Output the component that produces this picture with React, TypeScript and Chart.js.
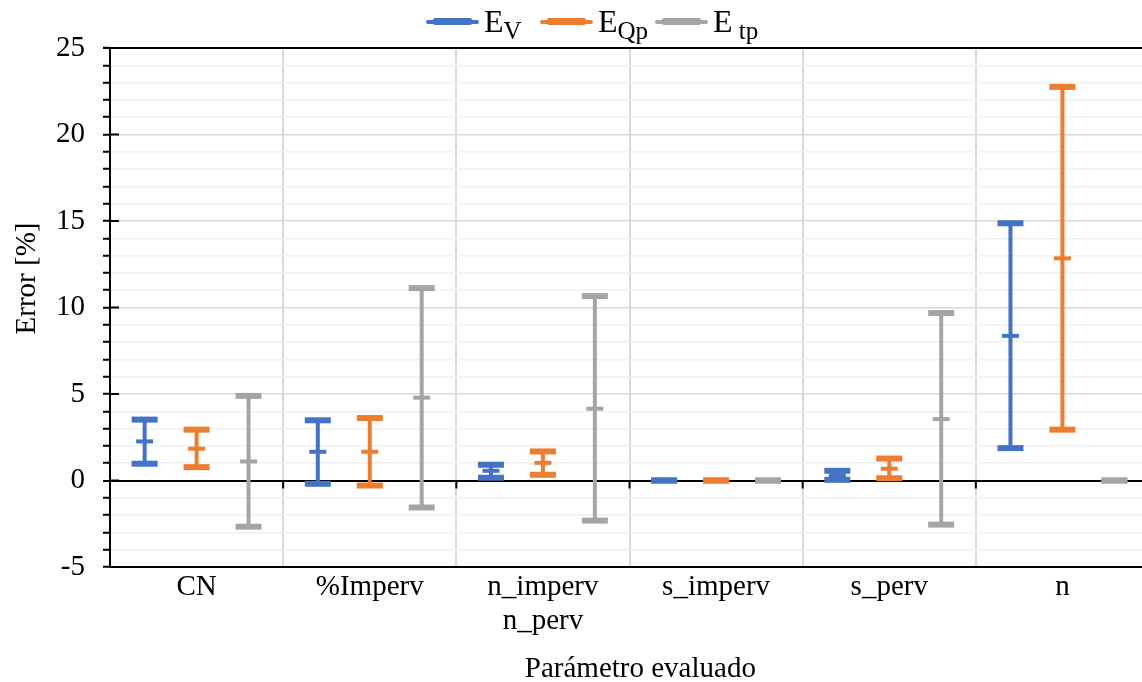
import React, { useEffect, useRef } from 'react';
import { Chart, registerables } from 'chart.js';

Chart.register(...registerables);

// ---- data ----
const categories: (string | string[])[] = ['CN', '%Imperv', ['n_imperv', 'n_perv'], 's_imperv', 's_perv', 'n'];

const evMin = [0.97, -0.19, 0.16, 0, 0.04, 1.87];
const evMean = [2.26, 1.66, 0.56, 0, 0.29, 8.36];
const evMax = [3.52, 3.48, 0.91, 0, 0.56, 14.87];

const eqpMin = [0.77, -0.29, 0.33, 0, 0.13, 2.94];
const eqpMean = [1.84, 1.66, 1.02, 0, 0.68, 12.84];
const eqpMax = [2.94, 3.61, 1.68, 0, 1.27, 22.75];

const etpMin = [-2.67, -1.56, -2.32, 0, -2.55, 0];
const etpMean = [1.1, 4.79, 4.15, 0, 3.55, 0];
const etpMax = [4.89, 11.12, 10.66, 0, 9.68, 0];

const yMin = -5;
const yMax = 25;
const yMajorStep = 5;

const xTitle = 'Parámetro evaluado';
const yTitle = 'Error [%]';

// ---- styling ----
const FONT = "'Liberation Serif', 'Times New Roman', serif";
const series = [
  { main: 'E', sub: 'V', color: '#4472C4', offset: -0.3, min: evMin, mean: evMean, max: evMax, left: 426 },
  { main: 'E', sub: 'Qp', color: '#ED7D31', offset: 0, min: eqpMin, mean: eqpMean, max: eqpMax, left: 540 },
  { main: 'E', sub: '\u00a0tp', color: '#A5A5A5', offset: 0.3, min: etpMin, mean: etpMean, max: etpMax, left: 655 },
];

const axisMarks = {
  id: 'axisMarks',
  beforeDatasetsDraw(chart: any) {
    const { ctx, chartArea, scales } = chart;
    const { left, right, top } = chartArea;
    const x = scales.x;
    const y = scales.y;
    ctx.save();
    ctx.strokeStyle = '#000';
    ctx.lineWidth = 2;
    ctx.beginPath();
    ctx.moveTo(left - 7, top);
    ctx.lineTo(right, top);
    for (let v = yMin; v <= yMax; v += yMajorStep) {
      const yy = y.getPixelForValue(v);
      ctx.moveTo(left, yy);
      ctx.lineTo(left + 9, yy);
    }
    const y0 = y.getPixelForValue(0);
    for (let i = 1; i < categories.length; i++) {
      const xx = x.getPixelForValue(i);
      ctx.moveTo(xx, y0);
      ctx.lineTo(xx, y0 + 8);
    }
    ctx.stroke();
    ctx.restore();
  },
};

export default function App() {
  const ref = useRef<HTMLCanvasElement>(null);

  useEffect(() => {
    if (!ref.current) return;
    const datasets: any[] = [];
    series.forEach((s) => {
      const pos = (i: number) => i + 0.5 + s.offset;
      datasets.push({
        type: 'bar',
        data: categories.map((_, i) => ({ x: pos(i), y: [s.min[i], s.max[i]] })),
        backgroundColor: s.color,
        borderWidth: 0,
        grouped: false,
        maxBarThickness: 4,
        order: 3,
      });
      datasets.push({
        type: 'scatter',
        data: [
          ...categories.map((_, i) => ({ x: pos(i), y: s.min[i] })),
          ...categories.map((_, i) => ({ x: pos(i), y: s.max[i] })),
        ],
        pointStyle: 'line',
        pointRadius: 13,
        pointHoverRadius: 13,
        pointBorderWidth: 6,
        borderColor: s.color,
        backgroundColor: s.color,
        showLine: false,
        order: 1,
      });
      datasets.push({
        type: 'scatter',
        data: categories.map((_, i) => ({ x: pos(i), y: s.mean[i] })),
        pointStyle: 'line',
        pointRadius: 8.5,
        pointHoverRadius: 8.5,
        pointBorderWidth: 4,
        borderColor: s.color,
        backgroundColor: s.color,
        showLine: false,
        order: 2,
      });
    });

    const tickFont = { family: FONT, size: 29, lineHeight: 1.15 };

    const chart = new Chart(ref.current, {
      type: 'bar',
      data: { datasets },
      plugins: [axisMarks],
      options: {
        responsive: false,
        animation: false,
        events: [],
        layout: { padding: { left: 0, right: 4, top: 48, bottom: 0 } },
        plugins: { legend: { display: false }, tooltip: { enabled: false } },
        scales: {
          x: {
            type: 'linear',
            min: 0,
            max: categories.length,
            offset: false,
            position: 'bottom',
            ticks: { display: false, stepSize: 1 },
            grid: {
              offset: false,
              color: (c: any) => (c.tick && (c.tick.value === 0 || c.tick.value === categories.length) ? 'rgba(0,0,0,0)' : '#d9d9d9'),
              lineWidth: 2,
              drawTicks: false,
            },
            border: { display: false },
            afterFit: (s: any) => { s.height = 0; },
          },
          xc: {
            type: 'category',
            labels: categories as any,
            position: 'bottom',
            offset: true,
            grid: { display: false, drawTicks: false },
            border: { display: true, color: '#000', width: 2 },
            ticks: { font: tickFont, color: '#000', padding: 4, maxRotation: 0, autoSkip: false },
            title: {
              display: true,
              text: '\u00a0\u00a0\u00a0' + xTitle,
              font: { family: FONT, size: 29, lineHeight: 1.2 },
              color: '#000',
              padding: { top: 0, bottom: 13 },
            },
            afterFit: (s: any) => { s.height = 133; },
          },
          y: {
            min: yMin,
            max: yMax,
            ticks: {
              stepSize: 1,
              autoSkip: false,
              callback: (v: any) => (Number(v) % yMajorStep === 0 ? String(v) : ''),
              font: tickFont,
              color: '#000',
              padding: 18,
            },
            grid: {
              color: (c: any) => {
                const v = c.tick ? c.tick.value : NaN;
                if (v === 0) return '#000';
                if (v % yMajorStep === 0) return '#d9d9d9';
                return '#f0f0f0';
              },
              lineWidth: (c: any) => (c.tick && c.tick.value === 0 ? 2 : 1.5),
              tickColor: '#000',
              tickLength: 7,
              tickWidth: 2,
            },
            border: { color: '#000', width: 2 },
            title: {
              display: true,
              text: '\u00a0'.repeat(8) + yTitle,
              font: { family: FONT, size: 29, lineHeight: 1.2 },
              color: '#000',
              padding: { top: 10, bottom: 0 },
            },
            afterFit: (s: any) => { s.width = 110; },
          },
        },
      } as any,
    });
    return () => chart.destroy();
  }, []);

  return (
    <div style={{ position: 'absolute', left: 0, top: 0, width: 1142, height: 682, overflow: 'hidden', background: '#fff' }}>
      <canvas ref={ref} width={1168} height={700} style={{ display: 'block' }} />
      {series.map((s, k) => (
        <div key={k} style={{ position: 'absolute', left: s.left, top: 0, height: 44, whiteSpace: 'nowrap' }}>
          <div style={{ position: 'absolute', left: 0, top: 19.5, width: 53, height: 4, background: s.color, borderRadius: 2 }} />
          <div style={{ position: 'absolute', left: 7, top: 18, width: 39, height: 7, background: s.color, borderRadius: 2 }} />
          <span
            style={{
              position: 'absolute',
              left: 58,
              top: 5,
              fontFamily: FONT,
              fontSize: 32,
              lineHeight: '32px',
              color: '#000',
            }}
          >
            {s.main}
            <span style={{ fontSize: 25, position: 'relative', top: 7 }}>{s.sub}</span>
          </span>
        </div>
      ))}
    </div>
  );
}
